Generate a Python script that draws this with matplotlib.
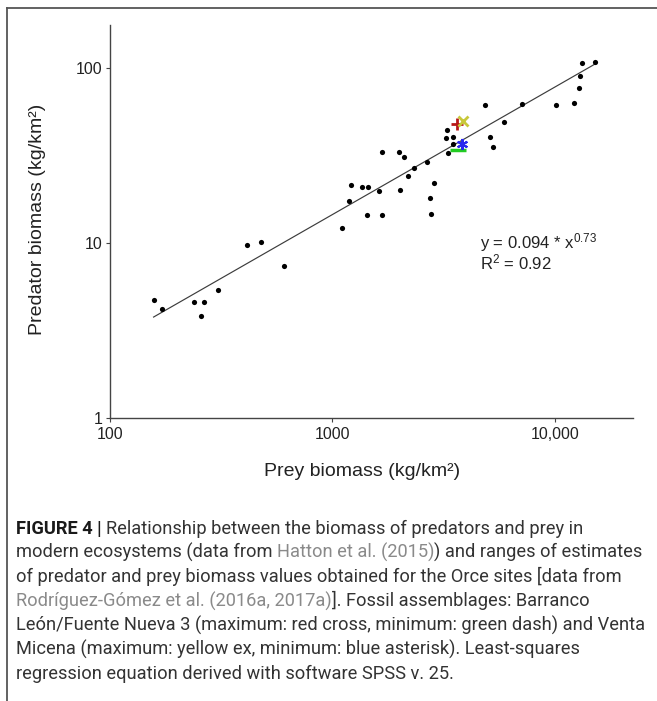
import matplotlib
matplotlib.use("Agg")
import matplotlib.pyplot as plt
from matplotlib.lines import Line2D
from matplotlib.ticker import NullLocator, FixedLocator, FixedFormatter

plt.rcParams['font.family'] = ['Liberation Sans', 'DejaVu Sans']
plt.rcParams['mathtext.fontset'] = 'custom'
plt.rcParams['mathtext.rm'] = 'Liberation Sans'
plt.rcParams['mathtext.it'] = 'Liberation Sans:italic'
plt.rcParams['mathtext.default'] = 'regular'

# ---------------- data ----------------
prey = [157, 172, 239, 265, 257, 307, 413, 477, 605,
        1107, 1192, 1205, 1353, 1437, 1429, 1664, 1618, 1674, 1984,
        2089, 2016, 2191, 2332, 2659, 2743, 2777, 2868, 3288, 3253,
        3270, 3498, 3498, 4846, 5130, 5280, 5917, 7085, 10100, 12200,
        12800, 12900, 13200, 15100]
predator = [4.7, 4.2, 4.6, 4.6, 3.8, 5.4, 9.7, 10.2, 7.4,
            12.2, 17.4, 21.5, 20.9, 20.9, 14.4, 14.5, 19.8, 33.1, 33.3,
            31.1, 20.0, 24.2, 26.9, 29.1, 18.0, 14.7, 22.1, 32.7, 39.8,
            44.4, 40.4, 37.1, 61.4, 40.6, 35.6, 49.3, 62.5, 61.4, 63.3,
            77.1, 90.9, 107, 108]

# Orce fossil assemblages (prey, predator)
bl_max = (3615, 48.0)   # red cross
bl_min = (3650, 34.0)   # green dash
vm_max = (3870, 50.0)   # yellow ex
vm_min = (3810, 37.0)   # blue asterisk

coef_a = 0.094
coef_b = 0.73
r2 = 0.92

x_ticks = [100, 1000, 10000]
x_ticklabels = ['100', '1000', '10,000']
y_ticks = [1, 10, 100]
y_ticklabels = ['1', '10', '100']

W, H = 657, 701
fig = plt.figure(figsize=(W / 100, H / 100), dpi=100)

ax = fig.add_axes([110 / W, 1 - 417.7 / H, 523 / W, 392.7 / H])
ax.set_xscale('log')
ax.set_yscale('log')
ax.set_xlim(100, 22420)
ax.set_ylim(1, 177)

# regression line over data range
xmin, xmax = min(prey), max(prey)
n = 50
xs = [xmin * (xmax / xmin) ** (i / (n - 1)) for i in range(n)]
ys = [coef_a * x ** coef_b for x in xs]
ax.plot(xs, ys, color='#3c3c3c', lw=0.85, zorder=2)

ax.scatter(prey, predator, s=14, color='black', zorder=3, linewidths=0)

ax.plot(*bl_min, marker='_', color='#22cc22', ms=11, mew=2.5, zorder=4)
ax.plot(*bl_max, marker='+', color='#b81818', ms=8, mew=2.0, zorder=4)
ax.plot(*vm_max, marker='x', color='#c8c83a', ms=6.5, mew=2.0, zorder=4)
ax.plot(*vm_min, marker=(6, 2, 0), color='#2a2aee', ms=8, mew=1.5, zorder=4)

for s in ['top', 'right']:
    ax.spines[s].set_visible(False)
for s in ['left', 'bottom']:
    ax.spines[s].set_color('#444444')
    ax.spines[s].set_linewidth(1.0)

ax.xaxis.set_major_locator(FixedLocator(x_ticks))
ax.xaxis.set_major_formatter(FixedFormatter(x_ticklabels))
ax.yaxis.set_major_locator(FixedLocator(y_ticks))
ax.yaxis.set_major_formatter(FixedFormatter(y_ticklabels))
ax.xaxis.set_minor_locator(NullLocator())
ax.yaxis.set_minor_locator(NullLocator())
ax.tick_params(axis='both', which='major', direction='out', length=3,
               width=0.8, color='#444444', labelsize=11.5, labelcolor='#222222')
ax.tick_params(axis='x', pad=4)
ax.tick_params(axis='y', pad=2.5)

# axis labels
fig.text(362.5 / W, 1 - 476.5 / H, 'Prey biomass (kg/km²)', ha='center',
         va='baseline', fontsize=14, color='#222222')
fig.text(38 / W, 1 - 219 / H, 'Predator biomass (kg/km²)', ha='center',
         va='center', rotation=90, fontsize=14, color='#222222')

# equation
fig.text(480 / W, 1 - 248 / H, f'y = {coef_a} * x$^{{{coef_b}}}$', ha='left',
         va='baseline', fontsize=12, color='#222222')
fig.text(480 / W, 1 - 269 / H, f'R$^{{2}}$ = {r2}', ha='left',
         va='baseline', fontsize=12, color='#222222')

# frame lines
fig.add_artist(Line2D([7 / W, 7 / W], [0.0, 1 - 8 / H],
                      transform=fig.transFigure, color='#555555', lw=1.3))
fig.add_artist(Line2D([7 / W, 1.0], [1 - 8 / H, 1 - 8 / H],
                      transform=fig.transFigure, color='#555555', lw=1.3))

# caption
renderer = fig.canvas.get_renderer()
cap_font = ['Roboto', 'DejaVu Sans']
NORMAL = dict(color='#333333', fontweight='normal')
BOLD = dict(color='#1a1a1a', fontweight='bold')
GRAY = dict(color='#8a8a8a', fontweight='normal')

caption = [
    [("FIGURE 4 |", BOLD, False), ("Relationship between the biomass of predators and prey in", NORMAL, True)],
    [("modern ecosystems (data from", NORMAL, False), ("Hatton et al. (2015)", GRAY, True),
     (") and ranges of estimates", NORMAL, False)],
    [("of predator and prey biomass values obtained for the Orce sites [data from", NORMAL, False)],
    [("Rodríguez-Gómez et al. (2016a, 2017a)", GRAY, False), ("]. Fossil assemblages: Barranco", NORMAL, False)],
    [("León/Fuente Nueva 3 (maximum: red cross, minimum: green dash) and Venta", NORMAL, False)],
    [("Micena (maximum: yellow ex, minimum: blue asterisk). Least-squares", NORMAL, False)],
    [("regression equation derived with software SPSS v. 25.", NORMAL, False)],
]


def text_width(s, fs, style):
    t = fig.text(0, 0, s, fontsize=fs, family=cap_font, **style)
    w = t.get_window_extent(renderer).width
    t.remove()
    return w


ref_fs = 10.0
w_ref = text_width(caption[4][0][0], ref_fs, NORMAL)
cap_fs = ref_fs * 628.0 / w_ref
space_w = text_width('x x', cap_fs, NORMAL) - text_width('xx', cap_fs, NORMAL)

x0 = 16.0
baseline0 = 533.8
line_step = 24.2
for i, segs in enumerate(caption):
    x = x0
    yb = baseline0 + i * line_step
    for s, style, sp in segs:
        if sp:
            x += space_w
        t = fig.text(x / W, 1 - yb / H, s, fontsize=cap_fs, family=cap_font,
                     ha='left', va='baseline', **style)
        x += t.get_window_extent(renderer).width

fig.savefig('out.png', dpi=100)
